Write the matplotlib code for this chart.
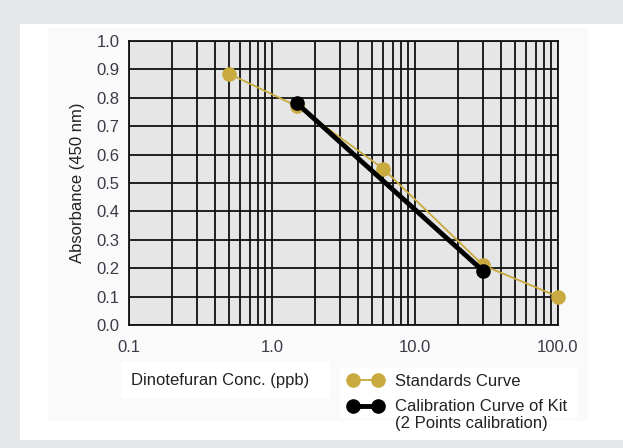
import matplotlib
matplotlib.use("Agg")
import matplotlib.pyplot as plt
from matplotlib.patches import Rectangle
from matplotlib.lines import Line2D

plt.rcParams['font.family'] = ['Liberation Sans', 'DejaVu Sans']

# Data
std_conc = [0.5, 1.5, 6.0, 30.0, 100.0]
std_abs = [0.885, 0.77, 0.55, 0.21, 0.10]
cal_conc = [1.5, 30.0]
cal_abs = [0.78, 0.19]
x_ticks = [0.1, 1.0, 10.0, 100.0]
x_tick_labels = ["0.1", "1.0", "10.0", "100.0"]
y_ticks = [0.0, 0.1, 0.2, 0.3, 0.4, 0.5, 0.6, 0.7, 0.8, 0.9, 1.0]
y_tick_labels = ["0.0", "0.1", "0.2", "0.3", "0.4", "0.5", "0.6", "0.7", "0.8", "0.9", "1.0"]

W, H = 623, 448
fig = plt.figure(figsize=(W / 100, H / 100), dpi=100, facecolor='#e6e7e8')

def frect(x0, y0, x1, y1, color, z=0):
    fig.add_artist(Rectangle((x0 / W, 1 - y1 / H), (x1 - x0) / W, (y1 - y0) / H,
                             transform=fig.transFigure, facecolor=color,
                             edgecolor='none', zorder=z))

frect(20, 24, 623, 440, 'white', -3)
frect(48, 28, 588, 421, '#fafafa', -2)
frect(121, 362, 330, 398, 'white', -1)
frect(340, 368, 577, 418, 'white', -1)

gold = '#c9aa3f'
ax = fig.add_axes([129 / W, 1 - 325 / H, (558 - 129) / W, (325 - 41) / H])
ax.set_facecolor('#e6e6e6')
ax.set_xscale('log')
ax.set_xlim(0.1, 100)
ax.set_ylim(0, 1.0)
ax.set_xticks(x_ticks)
ax.set_xticklabels(x_tick_labels)
ax.set_yticks(y_ticks)
ax.set_yticklabels(y_tick_labels)
ax.xaxis.set_minor_locator(matplotlib.ticker.LogLocator(base=10, subs=range(2, 10)))
ax.xaxis.set_minor_formatter(matplotlib.ticker.NullFormatter())
ax.grid(True, which='both', color='#111111', linewidth=1.3)
ax.set_axisbelow(True)
ax.tick_params(which='both', length=0, labelsize=12, colors='#3a3a48')
ax.tick_params(axis='x', pad=11)
ax.tick_params(axis='y', pad=7)
for s in ax.spines.values():
    s.set_color('#111111')
    s.set_linewidth(1.3)

ax.plot(std_conc, std_abs, color=gold, lw=1.3, marker='o', ms=9.5,
        mfc=gold, mec=gold, zorder=3, clip_on=False)
ax.plot(cal_conc, cal_abs, color='black', lw=3.5, marker='o', ms=9.5,
        mfc='black', mec='black', zorder=4, clip_on=False)

ax.set_ylabel('Absorbance (450 nm)', fontsize=12, color='#222222', labelpad=8)
fig.text(131 / W, 1 - 380 / H, 'Dinotefuran Conc. (ppb)', fontsize=12,
         color='#222222', ha='left', va='center')

h1 = Line2D([], [], color=gold, lw=1.3, marker='o', ms=9.5, mfc=gold, mec=gold)
h2 = Line2D([], [], color='black', lw=3.5, marker='o', ms=9.5, mfc='black', mec='black')
fig.legend([h1, h2], ['Standards Curve', 'Calibration Curve of Kit'],
           loc='upper left', bbox_to_anchor=(348 / W, 1 - 374 / H),
           frameon=False, fontsize=12, handlelength=2.1, handletextpad=0.72,
           numpoints=2, labelspacing=0.62, borderpad=0, borderaxespad=0,
           labelcolor='#222222')
fig.text(395 / W, 1 - 423 / H, '(2 Points calibration)', fontsize=12,
         color='#222222', ha='left', va='center')

fig.savefig('out.png', dpi=100, facecolor=fig.get_facecolor())
